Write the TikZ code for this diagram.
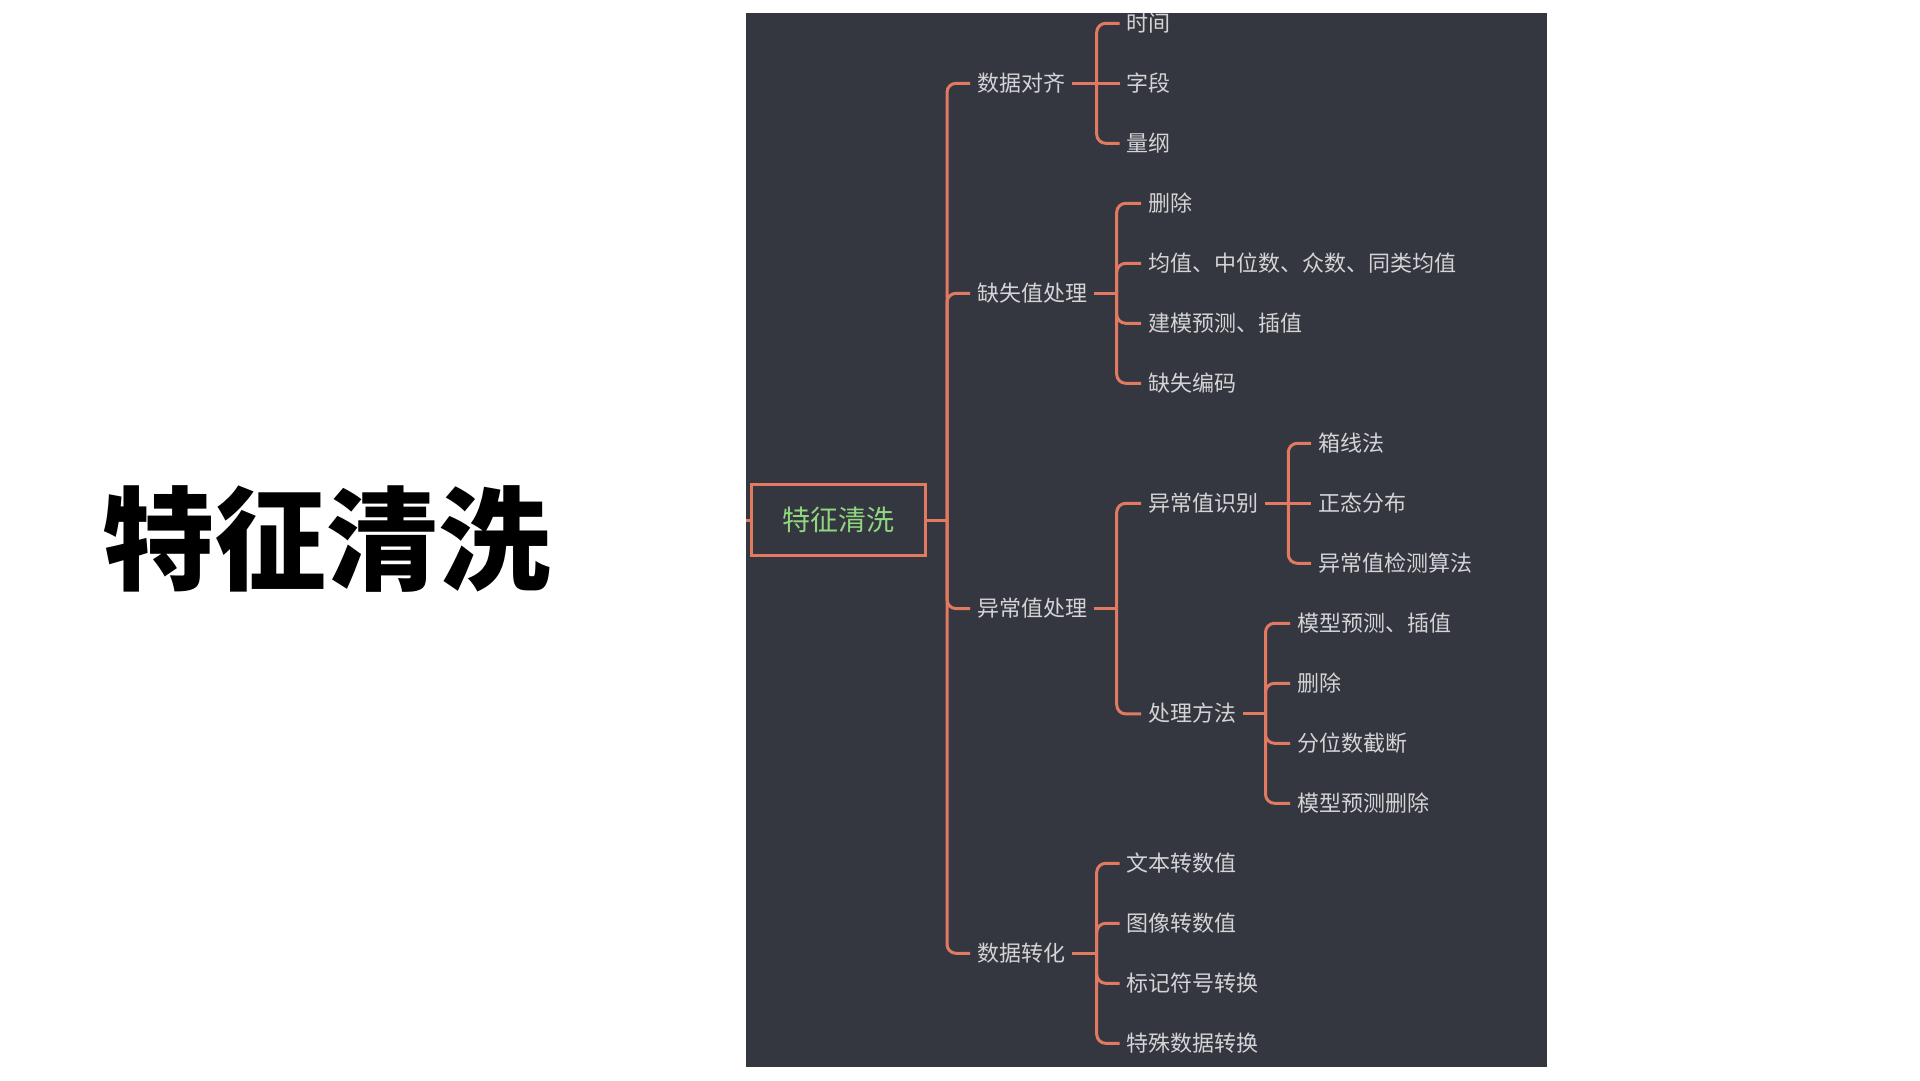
\documentclass[tikz,border=0pt]{standalone}
\usepackage{fontspec}
\newfontfamily\cjk{Noto Sans CJK SC}
\definecolor{panel}{RGB}{52,54,64}
\definecolor{linec}{RGB}{226,122,98}
\definecolor{txt}{RGB}{212,212,214}
\definecolor{rootgreen}{RGB}{144,214,128}
\begin{document}
\begin{tikzpicture}[x=1pt,y=-1pt,
  conn/.style={draw=linec, line width=3pt, rounded corners=9pt},
  leaf/.style={anchor=west, inner xsep=7pt, inner ysep=0pt, text=txt,
    font=\cjk\fontsize{22}{24}\selectfont, text height=17pt, text depth=1pt},
  rootbox/.style={draw=linec, line width=3pt, text=rootgreen, minimum width=174pt,
    minimum height=71pt, inner sep=0pt, font=\cjk\fontsize{28}{30}\selectfont,
    text height=23pt, text depth=1.5pt},
  bigtitle/.style={inner sep=0pt, text=black, font=\cjk\bfseries\fontsize{112}{116}\selectfont,
    text height=94pt, text depth=9pt}
]
\useasboundingbox (0,0) rectangle (1920,1080);
\fill[white] (0,0) rectangle (1920,1080);
\fill[panel] (746,13) rectangle (1547,1067);

\node[bigtitle] (title) at (326.5,539) {特征清洗};

\node[rootbox] (root) at (838.5,520) {特征清洗};
\coordinate (stub) at (746,520);
\draw[conn] (root.west) -- (stub);

% level 1
\node[leaf] (n1) at (970,83.3) {数据对齐};
\node[leaf] (n2) at (970,293.3) {缺失值处理};
\node[leaf] (n3) at (970,608.6) {异常值处理};
\node[leaf] (n4) at (970,953.3) {数据转化};

\coordinate (t0) at (947,520);
\draw[conn] (root.east) -- (t0);
\foreach \n in {n1,n2,n3,n4} \draw[conn] (t0) |- (\n.west);

% 数据对齐
\node[leaf] (a1) at (1119.5,23.3) {时间};
\node[leaf] (a2) at (1119.5,83.3) {字段};
\node[leaf] (a3) at (1119.5,143.3) {量纲};
\coordinate (t1) at (1096.7,83.3);
\draw[conn] (n1.east) -- (t1) -- (a2.west);
\draw[conn] (t1) |- (a1.west);
\draw[conn] (t1) |- (a3.west);

% 缺失值处理
\node[leaf] (b1) at (1141,203.3) {删除};
\node[leaf] (b2) at (1141,263.3) {均值、中位数、众数、同类均值};
\node[leaf] (b3) at (1141,323.3) {建模预测、插值};
\node[leaf] (b4) at (1141,383.3) {缺失编码};
\coordinate (t2) at (1116.7,293.3);
\draw[conn] (n2.east) -- (t2);
\foreach \n in {b1,b2,b3,b4} \draw[conn] (t2) |- (\n.west);

% 异常值处理
\node[leaf] (c1) at (1141,503.3) {异常值识别};
\node[leaf] (c2) at (1141,713.9) {处理方法};
\coordinate (t3) at (1116.7,608.6);
\draw[conn] (n3.east) -- (t3);
\foreach \n in {c1,c2} \draw[conn] (t3) |- (\n.west);

% 异常值识别
\node[leaf] (d1) at (1311,443.3) {箱线法};
\node[leaf] (d2) at (1311,503.3) {正态分布};
\node[leaf] (d3) at (1311,563.3) {异常值检测算法};
\coordinate (t4) at (1288.3,503.3);
\draw[conn] (c1.east) -- (t4) -- (d2.west);
\draw[conn] (t4) |- (d1.west);
\draw[conn] (t4) |- (d3.west);

% 处理方法
\node[leaf] (e1) at (1290,623.3) {模型预测、插值};
\node[leaf] (e2) at (1290,683.3) {删除};
\node[leaf] (e3) at (1290,743.3) {分位数截断};
\node[leaf] (e4) at (1290,803.3) {模型预测删除};
\coordinate (t5) at (1265.5,713.9);
\draw[conn] (c2.east) -- (t5);
\foreach \n in {e1,e2,e3,e4} \draw[conn] (t5) |- (\n.west);

% 数据转化
\node[leaf] (f1) at (1119.5,863.3) {文本转数值};
\node[leaf] (f2) at (1119.5,923.3) {图像转数值};
\node[leaf] (f3) at (1119.5,983.3) {标记符号转换};
\node[leaf] (f4) at (1119.5,1043.3) {特殊数据转换};
\coordinate (t6) at (1096.7,953.3);
\draw[conn] (n4.east) -- (t6);
\foreach \n in {f1,f2,f3,f4} \draw[conn] (t6) |- (\n.west);
\end{tikzpicture}
\end{document}
